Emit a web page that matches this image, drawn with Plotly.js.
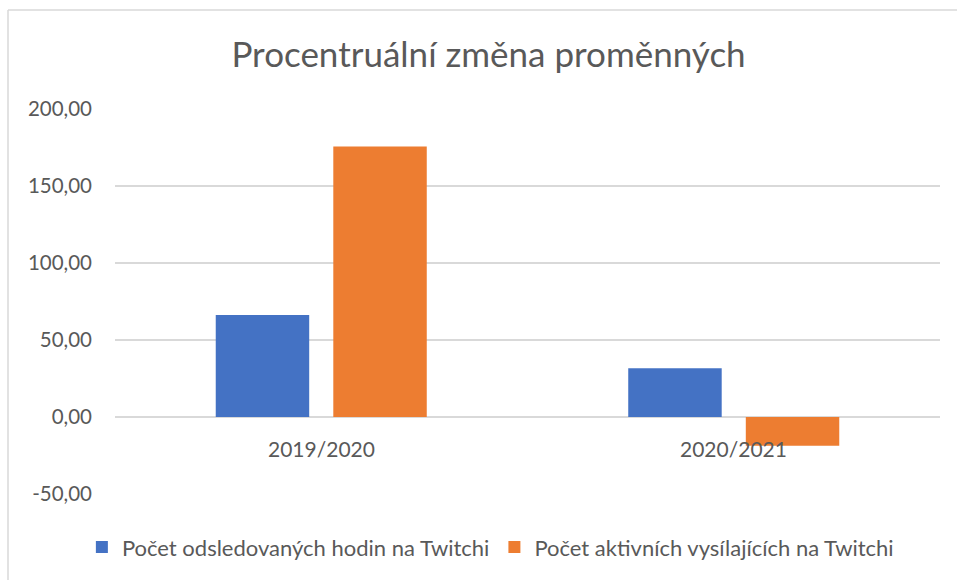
<!DOCTYPE html>
<html>
<head>
<meta charset="utf-8">
<script src="https://cdn.plot.ly/plotly-3.0.1.min.js"></script>
<style>body{margin:0;padding:0;background:#fff;} #chart{width:957px;height:580px;}</style>
</head>
<body>
<div id="chart"></div>
<script>
const categories = ["2019/2020", "2020/2021"];
const seriesNames = ["Počet odsledovaných hodin na Twitchi", "Počet aktivních vysílajících na Twitchi"];
const hoursWatched = [66.3, 31.7];
const activeStreamers = [175.7, -18.6];
const tickVals = [-50, 0, 50, 100, 150, 200];
const tickText = tickVals.map(v => v.toFixed(2).replace(".", ","));

const FONT = "Lato, 'Open Sans', sans-serif";
const traces = [
  {type: "bar", name: seriesNames[0], x: categories, y: hoursWatched, marker: {color: "#4472C4"}},
  {type: "bar", name: seriesNames[1], x: categories, y: activeStreamers, marker: {color: "#ED7D31"}}
];

const annotations = categories.map(c => ({
  x: c, y: 0, xref: "x", yref: "y", text: c, showarrow: false,
  yanchor: "top", yshift: -17, font: {family: FONT, size: 21, color: "#595959"}
}));

const layout = {
  width: 957, height: 580,
  paper_bgcolor: "#fff", plot_bgcolor: "#fff",
  margin: {l: 115, r: 17, t: 109, b: 86},
  title: {text: "Procentruální změna proměnných", x: 0.5105, xanchor: "center", y: 0.905, yanchor: "middle",
          font: {family: FONT, size: 35, color: "#595959"}},
  barmode: "group", bargap: 0.43, bargroupgap: 0.205,
  xaxis: {showticklabels: false, showgrid: false, zeroline: false, showline: false, ticks: ""},
  yaxis: {range: [-50, 200], tickvals: tickVals, ticktext: tickText, showgrid: true, gridcolor: "#d9d9d9", gridwidth: 1.3,
          zeroline: true, zerolinecolor: "#d9d9d9", zerolinewidth: 1.3, showline: false, ticks: "",
          tickfont: {family: FONT, size: 20.5, color: "#595959"}, ticklabelstandoff: 22},
  showlegend: true,
  legend: {orientation: "h", x: 0.455, xanchor: "center", y: -0.138, yanchor: "middle",
           font: {family: FONT, size: 22, color: "#595959"}, traceorder: "normal"},
  annotations: annotations,
  shapes: [
    {type: "line", xref: "paper", yref: "paper", x0: -0.1297, x1: -0.1297, y0: -0.3, y1: 1.257,
     line: {color: "#d9d9d9", width: 1.5}},
    {type: "line", xref: "paper", yref: "paper", x0: -0.1297, x1: 1.03, y0: 1.257, y1: 1.257,
     line: {color: "#d9d9d9", width: 1.5}}
  ]
};

Plotly.newPlot("chart", traces, layout, {displayModeBar: false, staticPlot: true});
</script>
</body>
</html>
